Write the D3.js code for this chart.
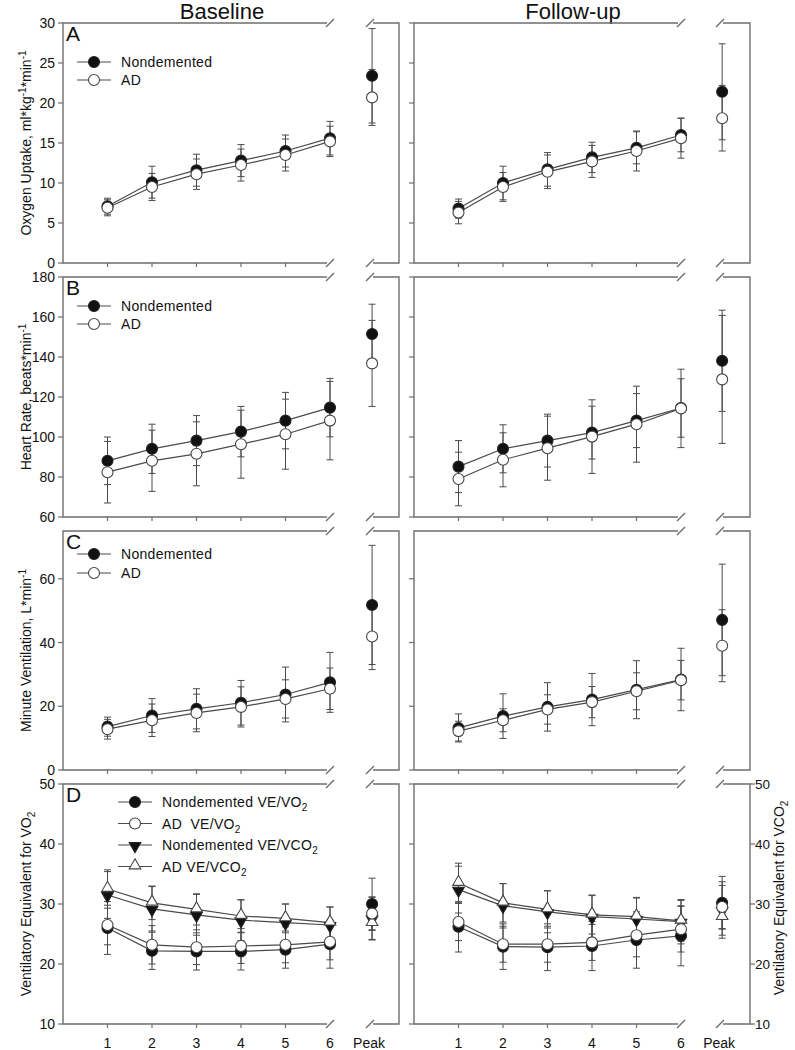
<!DOCTYPE html>
<html>
<head>
<meta charset="utf-8">
<script src="https://cdn.jsdelivr.net/npm/d3@7"></script>
<style>
  body { margin: 0; background: #fff; }
  svg { display: block; }
  text { font-family: "Liberation Sans", Arial, Helvetica, sans-serif; fill: #111; }
</style>
</head>
<body>
<svg id="chart" width="795" height="1050"></svg>
<script>
// stages 1-6, last value is Peak
const stage_labels = ['1', '2', '3', '4', '5', '6', 'Peak'];
const stage_x = [1, 2, 3, 4, 5, 6, 7];

// A: oxygen uptake
const vo2_base_nd    = [7.1, 10.1, 11.6, 12.8, 14.0, 15.6, 23.4];
const vo2_base_nd_sd = [1.0, 2.0, 2.0, 2.0, 2.0, 2.1, 5.9];
const vo2_base_ad    = [6.9, 9.5, 11.1, 12.25, 13.5, 15.2, 20.7];
const vo2_base_ad_sd = [1.0, 1.7, 1.9, 2.0, 2.0, 1.9, 3.5];
const vo2_fu_nd      = [6.8, 10.0, 11.7, 13.2, 14.4, 16.0, 21.4];
const vo2_fu_nd_sd   = [1.2, 2.1, 2.1, 1.9, 2.0, 2.1, 6.0];
const vo2_fu_ad      = [6.3, 9.5, 11.4, 12.7, 14.0, 15.6, 18.1];
const vo2_fu_ad_sd   = [1.4, 1.8, 2.1, 2.0, 2.5, 2.5, 4.1];

// B: heart rate
const hr_base_nd    = [88.1, 94.1, 98.2, 102.7, 108.2, 114.7, 151.5];
const hr_base_nd_sd = [11.9, 12.3, 12.5, 12.6, 14.1, 14.6, 14.9];
const hr_base_ad    = [82.4, 88.1, 91.6, 96.4, 101.4, 108.2, 136.8];
const hr_base_ad_sd = [15.4, 15.3, 16.0, 17.0, 17.5, 19.6, 21.5];
const hr_fu_nd      = [85.2, 94.1, 98.2, 102.2, 108.2, 114.5, 138.1];
const hr_fu_nd_sd   = [13.0, 12.0, 13.2, 13.2, 13.5, 14.6, 25.3];
const hr_fu_ad      = [79.0, 88.6, 94.4, 100.2, 106.4, 114.3, 128.8];
const hr_fu_ad_sd   = [13.4, 13.5, 16.0, 18.4, 19.0, 19.6, 32.0];

// C: minute ventilation
const ve_base_nd    = [13.6, 17.1, 19.2, 21.1, 23.7, 27.5, 51.8];
const ve_base_nd_sd = [3.0, 5.3, 6.3, 7.0, 8.6, 9.4, 18.7];
const ve_base_ad    = [12.8, 15.6, 17.9, 19.8, 22.3, 25.5, 41.9];
const ve_base_ad_sd = [3.1, 5.1, 5.9, 6.3, 6.0, 6.5, 10.4];
const ve_fu_nd      = [13.2, 16.9, 19.8, 22.1, 25.2, 28.4, 47.1];
const ve_fu_nd_sd   = [4.4, 7.0, 7.6, 8.2, 9.1, 9.8, 17.5];
const ve_fu_ad      = [12.2, 15.6, 19.0, 21.3, 24.7, 28.2, 39.0];
const ve_fu_ad_sd   = [3.1, 3.6, 4.6, 4.9, 5.8, 6.2, 11.3];

// D: ventilatory equivalents
const eqo2_base_nd     = [26.0, 22.2, 22.1, 22.1, 22.4, 23.3, 30.0];
const eqo2_base_nd_sd  = [4.4, 3.1, 3.1, 3.1, 3.1, 4.0, 4.3];
const eqo2_base_ad     = [26.5, 23.2, 22.8, 23.0, 23.2, 23.7, 28.4];
const eqo2_base_ad_sd  = [3.3, 3.2, 2.9, 2.9, 3.0, 3.0, 2.8];
const eqco2_base_nd    = [31.5, 29.2, 28.2, 27.3, 26.9, 26.5, 27.6];
const eqco2_base_nd_sd = [3.9, 3.7, 3.4, 3.4, 3.1, 3.0, 3.5];
const eqco2_base_ad    = [32.5, 30.2, 29.1, 28.0, 27.6, 26.9, 26.8];
const eqco2_base_ad_sd = [3.2, 2.8, 2.6, 2.7, 2.4, 2.6, 2.8];
const eqo2_fu_nd       = [26.2, 22.9, 22.8, 23.0, 24.0, 24.7, 30.2];
const eqo2_fu_nd_sd    = [4.2, 3.8, 3.9, 4.1, 4.7, 5.0, 4.4];
const eqo2_fu_ad       = [27.0, 23.3, 23.3, 23.6, 24.8, 25.8, 29.5];
const eqo2_fu_ad_sd    = [3.1, 3.0, 3.0, 3.0, 3.6, 3.8, 3.6];
const eqco2_fu_nd      = [32.4, 29.7, 28.7, 27.9, 27.5, 27.05, 29.0];
const eqco2_fu_nd_sd   = [3.9, 3.7, 3.5, 3.6, 3.6, 3.7, 4.7];
const eqco2_fu_ad      = [33.5, 30.2, 29.1, 28.2, 27.9, 27.2, 27.8];
const eqco2_fu_ad_sd   = [3.3, 3.2, 3.1, 3.2, 3.1, 3.4, 3.0];

const frame_color = '#6e6e6e';
const line_color = '#4a4a4a';
const svg = d3.select('#chart');

// ===============================================================
// Layout: two columns, each a main panel (stages) plus a narrow Peak panel
const cols = [
  {name: 'Baseline', left: 63, brk: 330, pk_left: 370, pk_right: 399, title_x: 222, labels: true},
  {name: 'Follow-up', left: 414, brk: 681, pk_left: 720, pk_right: 750, title_x: 573, labels: false},
];
cols.forEach(c => {
  c.x = d3.scaleLinear().domain([0, 6]).range([c.left, c.brk]);
  c.xp = d3.scaleLinear().domain([6.95, 7.65]).range([c.pk_left, c.pk_right]);
  c.xpos = v => v <= 6 ? c.x(v) : c.xp(v);
});

const ND = {fill: '#111', stroke: '#222'};
const AD = {fill: '#fff', stroke: '#444'};

const rows = [
  {key: 'A', top: 23, bottom: 263, domain: [0, 30], ticks: d3.range(0, 31, 5),
   title: [['Oxygen Uptake, ml*kg'], ['-1', 'sup'], ['*min'], ['-1', 'sup']],
   legend_x: 77, legend_y: [62, 80],
   series: [
     [{m: vo2_base_nd, sd: vo2_base_nd_sd, s: 'circle', ...ND, label: [['Nondemented']]},
      {m: vo2_base_ad, sd: vo2_base_ad_sd, s: 'circle', ...AD, label: [['AD']]}],
     [{m: vo2_fu_nd, sd: vo2_fu_nd_sd, s: 'circle', ...ND},
      {m: vo2_fu_ad, sd: vo2_fu_ad_sd, s: 'circle', ...AD}]
   ]},
  {key: 'B', top: 277, bottom: 517, domain: [60, 180], ticks: d3.range(60, 181, 20),
   title: [['Heart Rate, beats*min'], ['-1', 'sup']],
   legend_x: 77, legend_y: [306, 324],
   series: [
     [{m: hr_base_nd, sd: hr_base_nd_sd, s: 'circle', ...ND, label: [['Nondemented']]},
      {m: hr_base_ad, sd: hr_base_ad_sd, s: 'circle', ...AD, label: [['AD']]}],
     [{m: hr_fu_nd, sd: hr_fu_nd_sd, s: 'circle', ...ND},
      {m: hr_fu_ad, sd: hr_fu_ad_sd, s: 'circle', ...AD}]
   ]},
  {key: 'C', top: 531, bottom: 770, domain: [0, 75], ticks: [0, 20, 40, 60],
   title: [['Minute Ventilation, L*min'], ['-1', 'sup']],
   legend_x: 77, legend_y: [554, 573],
   series: [
     [{m: ve_base_nd, sd: ve_base_nd_sd, s: 'circle', ...ND, label: [['Nondemented']]},
      {m: ve_base_ad, sd: ve_base_ad_sd, s: 'circle', ...AD, label: [['AD']]}],
     [{m: ve_fu_nd, sd: ve_fu_nd_sd, s: 'circle', ...ND},
      {m: ve_fu_ad, sd: ve_fu_ad_sd, s: 'circle', ...AD}]
   ]},
  {key: 'D', top: 784, bottom: 1024, domain: [10, 50], ticks: d3.range(10, 51, 10),
   title: [['Ventilatory Equivalent for VO'], ['2', 'sub']],
   right_title: [['Ventilatory Equivalent for VCO'], ['2', 'sub']],
   legend_x: 118, legend_y: [802, 823.5, 845, 866.5],
   series: [
     [{m: eqco2_base_nd, sd: eqco2_base_nd_sd, s: 'down', ...ND, label: [['Nondemented VE/VCO'], ['2', 'sub']], li: 2},
      {m: eqco2_base_ad, sd: eqco2_base_ad_sd, s: 'up', ...AD, label: [['AD VE/VCO'], ['2', 'sub']], li: 3},
      {m: eqo2_base_nd, sd: eqo2_base_nd_sd, s: 'circle', ...ND, label: [['Nondemented VE/VO'], ['2', 'sub']], li: 0},
      {m: eqo2_base_ad, sd: eqo2_base_ad_sd, s: 'circle', ...AD, label: [['AD  VE/VO'], ['2', 'sub']], li: 1}],
     [{m: eqco2_fu_nd, sd: eqco2_fu_nd_sd, s: 'down', ...ND},
      {m: eqco2_fu_ad, sd: eqco2_fu_ad_sd, s: 'up', ...AD},
      {m: eqo2_fu_nd, sd: eqo2_fu_nd_sd, s: 'circle', ...ND},
      {m: eqo2_fu_ad, sd: eqo2_fu_ad_sd, s: 'circle', ...AD}]
   ]},
];

// ===============================================================
// Column titles
cols.forEach(c => {
  svg.append('text')
    .attr('x', c.title_x).attr('y', 19)
    .attr('text-anchor', 'middle')
    .style('font-size', '22px')
    .text(c.name);
});

rows.forEach(row => {
  const y = d3.scaleLinear().domain(row.domain).range([row.bottom, row.top]);
  row.y = y;

  cols.forEach((c, ci) => {
    const g = svg.append('g');
    draw_frame(g, c, row);

    // left axis ticks of main panel
    g.selectAll('.ytick').data(row.ticks).enter().append('line')
      .attr('x1', c.left - 5).attr('x2', c.left)
      .attr('y1', d => y(d)).attr('y2', d => y(d))
      .attr('stroke', frame_color).attr('stroke-width', 1.2);
    if (c.labels) {
      g.selectAll('.ylab').data(row.ticks).enter().append('text')
        .attr('x', c.left - 8).attr('y', d => y(d) + 5)
        .attr('text-anchor', 'end')
        .style('font-size', '14px')
        .text(d => d);
    }

    // bottom ticks 1-5
    g.selectAll('.xtick').data(stage_x.slice(0, 5)).enter().append('line')
      .attr('x1', d => c.x(d)).attr('x2', d => c.x(d))
      .attr('y1', row.bottom).attr('y2', row.bottom + 4)
      .attr('stroke', frame_color).attr('stroke-width', 1.2);

    const series = row.series[ci];

    // error bars
    series.forEach(s => {
      s.m.forEach((v, i) => {
        const xp = c.xpos(stage_x[i]);
        const hi = y(v + s.sd[i]), lo = y(v - s.sd[i]);
        g.append('line').attr('x1', xp).attr('x2', xp).attr('y1', hi).attr('y2', lo)
          .attr('stroke', line_color).attr('stroke-width', 1);
        [hi, lo].forEach(yy => g.append('line')
          .attr('x1', xp - 3.5).attr('x2', xp + 3.5).attr('y1', yy).attr('y2', yy)
          .attr('stroke', line_color).attr('stroke-width', 1));
      });
    });

    // connecting lines (stages only)
    series.forEach(s => {
      g.append('path')
        .attr('d', d3.line().x((d, i) => c.x(stage_x[i])).y(d => y(d))(s.m.slice(0, 6)))
        .attr('fill', 'none').attr('stroke', line_color).attr('stroke-width', 1.2);
    });

    // markers
    series.forEach(s => {
      s.m.forEach((v, i) => draw_marker(g, s, c.xpos(stage_x[i]), y(v)));
    });

    // legend (only baseline)
    series.forEach((s, si) => {
      if (!s.label) return;
      const li = s.li !== undefined ? s.li : si;
      const ly = row.legend_y[li];
      g.append('line')
        .attr('x1', row.legend_x).attr('x2', row.legend_x + 34)
        .attr('y1', ly).attr('y2', ly)
        .attr('stroke', line_color).attr('stroke-width', 1.2);
      draw_marker(g, s, row.legend_x + 17, ly);
      rich_text(g.append('text')
        .attr('x', row.legend_x + 44).attr('y', ly + 5)
        .style('font-size', '14px')
        .style('white-space', 'pre')
        .style('letter-spacing', '0.3px'), s.label);
    });

    // Peak / stage labels on the bottom row
    if (row.key === 'D') {
      g.selectAll('.xlab').data(stage_x).enter().append('text')
        .attr('x', (d, i) => i === 6 ? c.xpos(d) - 3 : c.xpos(d))
        .attr('y', 1048)
        .attr('text-anchor', 'middle')
        .style('font-size', '14px')
        .text((d, i) => stage_labels[i]);
    }
  });

  // panel letter
  svg.append('text')
    .attr('x', 66).attr('y', row.top + 18)
    .style('font-size', '21px')
    .text(row.key);

  // y title
  rich_text(svg.append('text')
    .attr('transform', `translate(31,${(row.top + row.bottom) / 2}) rotate(-90)`)
    .attr('text-anchor', 'middle')
    .style('font-size', '14px'), row.title);

  // right axis on the last follow-up peak panel
  if (row.right_title) {
    const c = cols[1];
    svg.selectAll('.rtick').data(row.ticks).enter().append('line')
      .attr('x1', c.pk_right).attr('x2', c.pk_right + 5)
      .attr('y1', d => y(d)).attr('y2', d => y(d))
      .attr('stroke', frame_color).attr('stroke-width', 1.2);
    svg.selectAll('.rlab').data(row.ticks).enter().append('text')
      .attr('x', c.pk_right + 5).attr('y', d => y(d) + 5)
      .style('font-size', '13.5px')
      .text(d => d);
    rich_text(svg.append('text')
      .attr('transform', `translate(784,${(row.top + row.bottom) / 2 - 6}) rotate(-90)`)
      .attr('text-anchor', 'middle')
      .style('font-size', '14px'), row.right_title);
  }
});

// ===============================================================
// Helpers

function draw_frame(g, c, row) {
  const t = row.top, b = row.bottom;
  const st = {stroke: frame_color, 'stroke-width': 1.4, fill: 'none'};
  const apply = sel => Object.entries(st).forEach(([k, v]) => sel.attr(k, v));
  // main panel: open on the right
  apply(g.append('path').attr('d', `M${c.brk - 3},${t}H${c.left}V${b}H${c.brk - 3}`));
  // peak panel: open on the left
  apply(g.append('path').attr('d', `M${c.pk_left + 3},${t}H${c.pk_right}V${b}H${c.pk_left + 3}`));
  // break marks
  [c.brk, c.pk_left].forEach(bx => {
    [t, b].forEach(by => {
      apply(g.append('line')
        .attr('x1', bx - 4).attr('y1', by + 4)
        .attr('x2', bx + 4).attr('y2', by - 4));
    });
  });
}

function draw_marker(g, s, cx, cy) {
  if (s.s === 'circle') {
    g.append('circle').attr('cx', cx).attr('cy', cy).attr('r', 5.5)
      .attr('fill', s.fill).attr('stroke', s.stroke).attr('stroke-width', 1.1);
  } else {
    g.append('path')
      .attr('d', d3.symbol(d3.symbolTriangle, 58)())
      .attr('transform', `translate(${cx},${cy + (s.s === 'down' ? 1 : -1)}) rotate(${s.s === 'down' ? 180 : 0})`)
      .attr('fill', s.fill).attr('stroke', s.stroke).attr('stroke-width', 1.1);
  }
}

function rich_text(text, parts) {
  let shift = 0;
  parts.forEach(([t, kind]) => {
    const target = kind === 'sup' ? -5 : kind === 'sub' ? 4 : 0;
    text.append('tspan')
      .attr('dy', target - shift)
      .style('font-size', kind ? '10px' : null)
      .text(t);
    shift = target;
  });
}
</script>
</body>
</html>
